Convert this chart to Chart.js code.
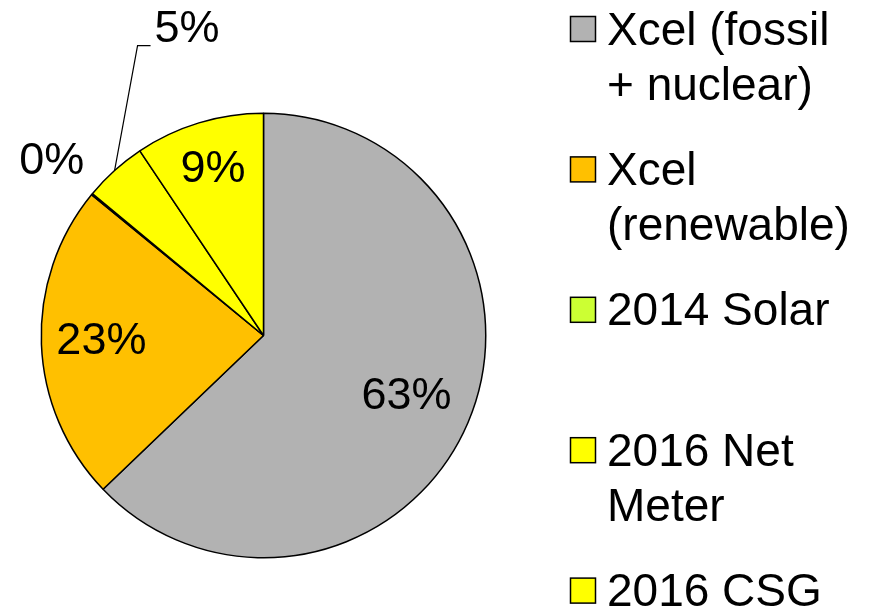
<!DOCTYPE html>
<html>
<head>
<meta charset="utf-8">
<script src="https://cdn.jsdelivr.net/npm/chart.js@4"></script>
<style>
  html, body { margin: 0; padding: 0; background: #fff; }
  #wrap { width: 875px; height: 610px; position: relative; }
</style>
</head>
<body>
<div id="wrap"><canvas id="pieChart" width="875" height="610"></canvas></div>
<script>
// Data
const categories = [
    ['Xcel (fossil', '+ nuclear)'],
    ['Xcel', '(renewable)'],
    ['2014 Solar'],
    ['2016 Net', 'Meter'],
    ['2016 CSG']
];
const shares = [62.9, 23.1, 0.1, 4.6, 9.4];
const sliceColors = ['#B2B2B2', '#FFC000', '#CCFF33', '#FFFF00', '#FFFF00'];

const FONT = "'Liberation Sans', Arial, sans-serif";

// Percent labels on/around the slices
const sliceLabels = {
    id: 'sliceLabels',
    afterDatasetsDraw(chart) {
        const ctx = chart.ctx;
        const meta = chart.getDatasetMeta(0);
        const values = chart.data.datasets[0].data;
        const total = values.reduce((a, b) => a + b, 0);

        ctx.save();
        ctx.fillStyle = '#000';
        ctx.font = '45px ' + FONT;
        ctx.textBaseline = 'middle';

        meta.data.forEach((arc, i) => {
            const { x, y, startAngle, endAngle, outerRadius } = arc.getProps(['x', 'y', 'startAngle', 'endAngle', 'outerRadius'], true);
            const mid = (startAngle + endAngle) / 2;
            const text = Math.round(values[i] / total * 100) + '%';

            if (i === 3) {
                // callout with leader line
                const ex = x + Math.cos(mid) * outerRadius;
                const ey = y + Math.sin(mid) * outerRadius;
                const kx = ex + 23, ky = ey - 125;
                ctx.strokeStyle = '#000';
                ctx.lineWidth = 1.2;
                ctx.beginPath();
                ctx.moveTo(ex, ey);
                ctx.lineTo(kx, ky);
                ctx.lineTo(kx + 13, ky);
                ctx.stroke();
                ctx.textAlign = 'left';
                ctx.fillText(text, kx + 17, ky - 16);
                return;
            }

            let r;
            if (i === 2) r = outerRadius + 52;
            else if (i === 0) r = outerRadius * 0.7;
            else if (i === 1) r = outerRadius * 0.73;
            else r = outerRadius * 0.78;

            ctx.textAlign = 'center';
            ctx.fillText(text, x + Math.cos(mid) * r, y + Math.sin(mid) * r);
        });
        ctx.restore();
    }
};

// Legend on the right
const sideLegend = {
    id: 'sideLegend',
    afterDraw(chart) {
        const ctx = chart.ctx;
        const labels = chart.data.labels;
        const colors = chart.data.datasets[0].backgroundColor;
        ctx.save();
        ctx.font = '46px ' + FONT;
        ctx.textAlign = 'left';
        ctx.textBaseline = 'alphabetic';
        labels.forEach((lines, i) => {
            const cy = 28.5 + i * 140.4;
            ctx.fillStyle = colors[i];
            ctx.fillRect(570.5, cy - 12, 25, 25);
            ctx.strokeStyle = '#000';
            ctx.lineWidth = 1.5;
            ctx.strokeRect(570.5, cy - 12, 25, 25);
            ctx.fillStyle = '#000';
            lines.forEach((line, j) => {
                ctx.fillText(line, 607, cy + 16 + j * 55);
            });
        });
        ctx.restore();
    }
};

document.addEventListener('DOMContentLoaded', function() {
    const pieCtx = document.getElementById('pieChart').getContext('2d');
    new Chart(pieCtx, {
        type: 'pie',
        data: {
            labels: categories,
            datasets: [{
                data: shares,
                backgroundColor: sliceColors,
                borderColor: '#000',
                borderWidth: 1.5
            }]
        },
        options: {
            responsive: false,
            animation: false,
            layout: {
                padding: { left: 40.5, right: 388.5, top: 112.5, bottom: 51.5 }
            },
            plugins: {
                legend: { display: false },
                tooltip: { enabled: false }
            }
        },
        plugins: [sliceLabels, sideLegend]
    });
});
</script>
</body>
</html>
